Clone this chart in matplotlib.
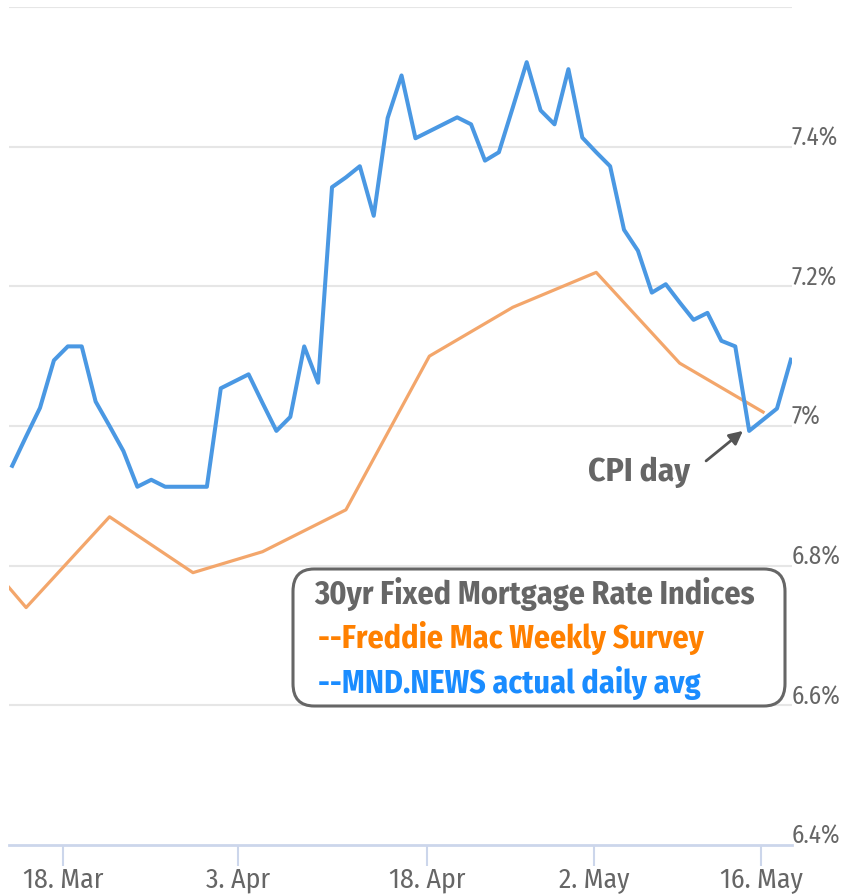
import matplotlib
matplotlib.use("Agg")
import matplotlib.pyplot as plt
from matplotlib import font_manager
from matplotlib.patches import FancyBboxPatch

# ordinal x axis: each value is one chart slot (MND daily points are equally spaced)
mnd_x = list(range(-2, 55))
mnd_rate = [6.943, 6.985, 7.026, 7.094, 7.114, 7.114, 7.035, 7.000, 6.964, 6.913,
            6.923, 6.913, 6.913, 6.913, 6.913, 7.054, 7.064, 7.074, 7.033, 6.993,
            7.013, 7.114, 7.062, 7.342, 7.356, 7.372, 7.301, 7.441, 7.502, 7.412,
            7.422, 7.432, 7.442, 7.432, 7.380, 7.392, 7.456, 7.521, 7.452, 7.432,
            7.511, 7.413, 7.392, 7.372, 7.281, 7.251, 7.191, 7.203, 7.177, 7.152,
            7.162, 7.122, 7.114, 6.993, 7.009, 7.025, 7.095]

freddie_x = [-7, -1, 5, 11, 16, 22, 28, 34, 40, 46, 52]
freddie_rate = [6.88, 6.74, 6.87, 6.79, 6.82, 6.88, 7.10, 7.17, 7.22, 7.09, 7.02]

tick_pos = [1.68, 14.26, 27.85, 39.86, 51.85]
tick_labels = ['18. Mar', '3. Apr', '18. Apr', '2. May', '16. May']
y_ticks = [6.4, 6.6, 6.8, 7.0, 7.2, 7.4]
y_labels = ['6.4%', '6.6%', '6.8%', '7%', '7.2%', '7.4%']

# condensed font, closest to the original chart's narrow text
names = set(f.name for f in font_manager.fontManager.ttflist)
font = 'Fira Sans Condensed' if 'Fira Sans Condensed' in names else 'DejaVu Sans'
plt.rcParams['font.family'] = [font, 'DejaVu Sans']

fig = plt.figure(figsize=(8.43, 8.95), dpi=100)
ax = fig.add_axes([9 / 843, 49 / 895, 783 / 843, 838 / 895])
ax.set_xlim(-2.23, 54.08)
ax.set_ylim(6.4, 7.6)

for y in y_ticks[1:] + [7.6]:
    ax.axhline(y, color='#e6e6e6', lw=1.5, zorder=0)
for s in ['top', 'right', 'left']:
    ax.spines[s].set_visible(False)
ax.spines['bottom'].set_color('#ccd6eb')
ax.spines['bottom'].set_linewidth(2)

ax.plot(freddie_x, freddie_rate, color='#f3a66b', lw=2.3, zorder=2)
ax.plot(mnd_x, mnd_rate, color='#4a98e3', lw=2.9, zorder=3)

ax.set_xticks(tick_pos)
ax.set_xticklabels(tick_labels, fontsize=20, color='#666666')
ax.tick_params(axis='x', length=15, width=1.5, color='#ccd6eb', pad=0)
ax.set_yticks([])
for y, lab in zip(y_ticks, y_labels):
    ax.text(1.0, y + 0.003, lab, transform=ax.get_yaxis_transform(), ha='left', va='baseline',
            fontsize=18, color='#666666')

ax.text(46.74, 6.935, 'CPI day', ha='right', va='center',
        fontsize=24, fontweight='bold', color='#666666')
ax.annotate('', xy=(50.55, 6.993), xytext=(47.9, 6.950),
            arrowprops=dict(arrowstyle='-|>', color='#555555', lw=2, mutation_scale=20,
                            shrinkA=0, shrinkB=0))

# legend-like box
box = FancyBboxPatch((293 / 843, (895 - 707) / 895), 492 / 843, 137 / 895,
                     boxstyle='round,pad=0,rounding_size=0.025', transform=fig.transFigure,
                     facecolor='white', edgecolor='#666666', lw=2.2, zorder=5)
fig.patches.append(box)
fig.text(535 / 843, 1 - 594 / 895, '30yr Fixed Mortgage Rate Indices', ha='center', va='center',
         fontsize=23, fontweight='bold', color='#666666', zorder=6)
fig.add_artist(plt.Line2D([319 / 843, 752 / 843], [1 - 616 / 895, 1 - 616 / 895],
                          color='#555555', lw=2.2, transform=fig.transFigure))
fig.text(318 / 843, 1 - 638 / 895, '--Freddie Mac Weekly Survey', ha='left', va='center',
         fontsize=23, fontweight='bold', color='#ff8000', zorder=6)
fig.text(318 / 843, 1 - 683 / 895, '--MND.NEWS actual daily avg', ha='left', va='center',
         fontsize=23, fontweight='bold', color='#1a8cff', zorder=6)

fig.savefig('out.png', dpi=100)
